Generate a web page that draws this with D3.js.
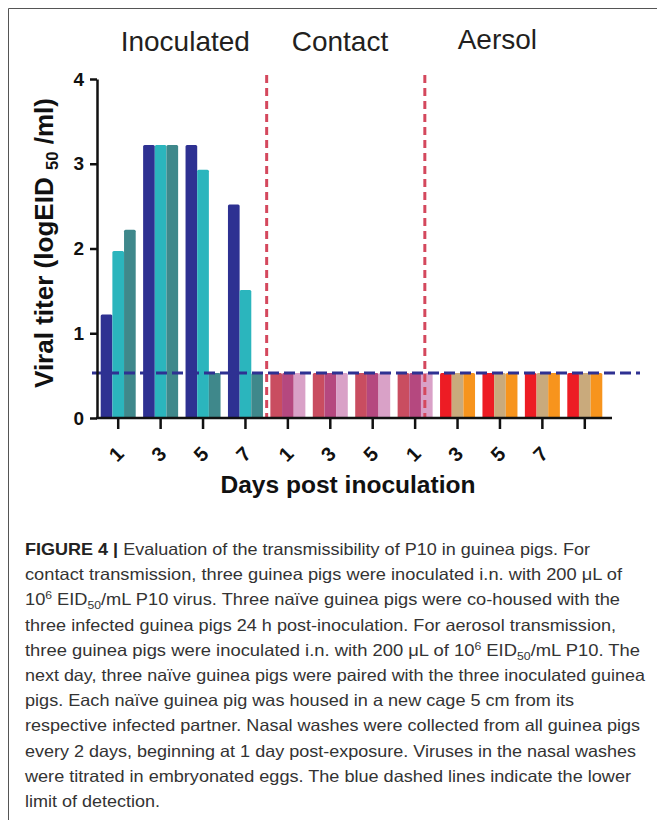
<!DOCTYPE html>
<html lang="en">
<head>
    <meta charset="UTF-8">
    <title>Viral titer</title>
    <script src="https://d3js.org/d3.v7.min.js"></script>
    <style type="text/css">
        body { margin: 0; background: #ffffff; }
        * { font-family: "Liberation Sans", Arial, sans-serif; }
    </style>
</head>
<body>
    <!--Chart and caption go here-->
    <div id="chart"></div>
</body>
</html>

<script>
// Data

var groups = ["Inoculated", "Contact", "Aersol"];
var days = ["1", "3", "5", "7"];
var tickLabels = ["1", "3", "5", "7", "1", "3", "5", "1", "3", "5", "7", ""];
var yTicks = [0, 1, 2, 3, 4];

// one value per day, three animals per group
var inoculated1 = [1.22, 3.22, 3.22, 2.52];
var inoculated2 = [1.97, 3.22, 2.93, 1.51];
var inoculated3 = [2.22, 3.22, 0.53, 0.53];
var contact1 = [0.53, 0.53, 0.53, 0.53];
var contact2 = [0.53, 0.53, 0.53, 0.53];
var contact3 = [0.53, 0.53, 0.53, 0.53];
var aerosol1 = [0.53, 0.53, 0.53, 0.53];
var aerosol2 = [0.53, 0.53, 0.53, 0.53];
var aerosol3 = [0.53, 0.53, 0.53, 0.53];

// lower limit of detection
var detectionLimit = 0.53;

var seriesByGroup = [
    [inoculated1, inoculated2, inoculated3],
    [contact1, contact2, contact3],
    [aerosol1, aerosol2, aerosol3]
];
var colorsByGroup = [
    ["#2e3192", "#2bb5bd", "#3f888b"],
    ["#c94d60", "#b5487f", "#d9a1c7"],
    ["#ed1c24", "#c9aa7c", "#f7941d"]
];

var captionLines = [
    "Evaluation of the transmissibility of P10 in guinea pigs. For",
    "contact transmission, three guinea pigs were inoculated i.n. with 200 \u03bcL of",
    "10^6 EID_50/mL P10 virus. Three na\u00efve guinea pigs were co-housed with the",
    "three infected guinea pigs 24 h post-inoculation. For aerosol transmission,",
    "three guinea pigs were inoculated i.n. with 200 \u03bcL of 10^6 EID_50/mL P10. The",
    "next day, three na\u00efve guinea pigs were paired with the three inoculated guinea",
    "pigs. Each na\u00efve guinea pig was housed in a new cage 5 cm from its",
    "respective infected partner. Nasal washes were collected from all guinea pigs",
    "every 2 days, beginning at 1 day post-exposure. Viruses in the nasal washes",
    "were titrated in embryonated eggs. The blue dashed lines indicate the lower",
    "limit of detection."
];
var captionEnds = [590, 622, 620, 616, 640, 645, 574, 640, 636, 631, 160];

// flatten into one record per bar
var bars = [];
seriesByGroup.forEach(function(series, g) {
    series.forEach(function(values, s) {
        values.forEach(function(v, d) {
            bars.push({slot: g * days.length + d, animal: s, value: v, color: colorsByGroup[g][s]});
        });
    });
});

var width = 657;
var height = 820;

var svg = d3.select("#chart").append("svg")
    .attr("width", width)
    .attr("height", height);

// frame round the figure
svg.append("path")
    .attr("d", "M8.5,820 L8.5,8.5 L657,8.5")
    .attr("fill", "none")
    .attr("stroke", "#555")
    .attr("stroke-width", 1);

// scales
var x = d3.scaleBand()
    .domain(d3.range(tickLabels.length))
    .range([97, 606])
    .padding(0);

var xInner = d3.scaleBand()
    .domain([0, 1, 2])
    .range([-17.5, 17.5])
    .padding(0);

var y = d3.scaleLinear()
    .domain([0, 4])
    .range([418, 79]);

// bars
svg.append("g").selectAll("rect")
    .data(bars)
    .enter()
    .append("rect")
    .attr("x", function(d) { return x(d.slot) + x.bandwidth() / 2 + xInner(d.animal); })
    .attr("y", function(d) { return y(d.value); })
    .attr("width", xInner.bandwidth())
    .attr("height", function(d) { return y(0) - y(d.value); })
    .attr("rx", 1.5)
    .attr("fill", function(d) { return d.color; });

// group separators (the second one sits over the last contact bar, as in the figure)
var separators = [{slot: 4, shift: 0}, {slot: 8, shift: -11.5}];
svg.append("g").selectAll("line")
    .data(separators)
    .enter()
    .append("line")
    .attr("x1", function(d) { return x(d.slot) + d.shift; })
    .attr("x2", function(d) { return x(d.slot) + d.shift; })
    .attr("y1", 75)
    .attr("y2", y(0))
    .attr("stroke", "#d4485d")
    .attr("stroke-width", 3)
    .attr("stroke-dasharray", "8,5");

// detection limit line
svg.append("line")
    .attr("x1", 92)
    .attr("x2", 640)
    .attr("y1", y(detectionLimit))
    .attr("y2", y(detectionLimit))
    .attr("stroke", "#2e3192")
    .attr("stroke-width", 3)
    .attr("stroke-dasharray", "11,5");

// y axis
var yAxis = svg.append("g")
    .attr("transform", "translate(97,0)")
    .call(d3.axisLeft(y).tickValues(yTicks).tickFormat(d3.format("d")).tickSize(7).tickSizeOuter(0));
yAxis.select(".domain").attr("stroke-width", 2.5).attr("stroke", "#111");
yAxis.selectAll(".tick line").attr("stroke-width", 2.5).attr("stroke", "#111");
yAxis.selectAll(".tick text")
    .attr("x", -13)
    .attr("font-size", 19)
    .attr("font-weight", "bold")
    .attr("fill", "#111")
    .style("font-family", "Liberation Sans, Arial, sans-serif");

// x axis
var xAxis = svg.append("g")
    .attr("transform", "translate(0," + y(0) + ")")
    .call(d3.axisBottom(x).tickFormat(function(d) { return tickLabels[d]; }).tickSize(11).tickSizeOuter(0));
xAxis.select(".domain").attr("d", "M96,0H612").attr("stroke-width", 2.5).attr("stroke", "#111");
xAxis.selectAll(".tick line").attr("stroke-width", 2.5).attr("stroke", "#111");
xAxis.selectAll(".tick text")
    .attr("y", 0)
    .attr("dy", null)
    .attr("transform", "translate(-2,36) rotate(-45)")
    .attr("text-anchor", "middle")
    .attr("dominant-baseline", "central")
    .attr("font-size", 20)
    .attr("font-weight", "bold")
    .attr("fill", "#111")
    .style("font-family", "Liberation Sans, Arial, sans-serif");

// group titles
var titleX = [120.7, 291.7, 457.7];
var titleY = [51, 50.7, 49.3];
svg.append("g").selectAll("text")
    .data(groups)
    .enter()
    .append("text")
    .attr("x", function(d, i) { return titleX[i]; })
    .attr("y", function(d, i) { return titleY[i]; })
    .attr("font-size", 28)
    .attr("fill", "#231f20")
    .text(function(d) { return d; });

// axis titles
svg.append("text")
    .attr("x", 348)
    .attr("y", 493)
    .attr("text-anchor", "middle")
    .attr("font-size", 23)
    .attr("font-weight", "bold")
    .attr("fill", "#111")
    .attr("textLength", 255)
    .attr("lengthAdjust", "spacingAndGlyphs")
    .text("Days post inoculation");

var yTitle = svg.append("text")
    .attr("transform", "translate(53,243) rotate(-90)")
    .attr("text-anchor", "middle")
    .attr("font-size", 25)
    .attr("font-weight", "bold")
    .attr("fill", "#111")
    .attr("textLength", 290)
    .attr("lengthAdjust", "spacingAndGlyphs");
yTitle.append("tspan").text("Viral titer (logEID ");
yTitle.append("tspan").attr("font-size", 16).attr("dy", 5).text("50");
yTitle.append("tspan").attr("dy", -5).text(" /ml)");

// caption, ^ marks superscript and _ marks subscript
var caption = svg.append("g");
captionLines.forEach(function(line, i) {
    var t = caption.append("text")
        .attr("x", 25)
        .attr("y", 555 + i * 25.2)
        .attr("font-size", 16.5)
        .attr("fill", "#333")
        .attr("textLength", captionEnds[i] - 25)
        .attr("lengthAdjust", "spacingAndGlyphs");
    if (i === 0) {
        t.append("tspan").attr("font-weight", "bold").attr("fill", "#222").text("FIGURE 4 | ");
    }
    var parts = line.split(/(\^\d+|_\d+)/);
    var back = 0;
    parts.forEach(function(p) {
        if (p === "") return;
        if (p[0] === "^") {
            t.append("tspan").attr("font-size", 11).attr("dy", -6).text(p.slice(1));
            back = 6;
        } else if (p[0] === "_") {
            t.append("tspan").attr("font-size", 11).attr("dy", 4).text(p.slice(1));
            back = -4;
        } else {
            t.append("tspan").attr("dy", back).text(p);
            back = 0;
        }
    });
});

</script>
